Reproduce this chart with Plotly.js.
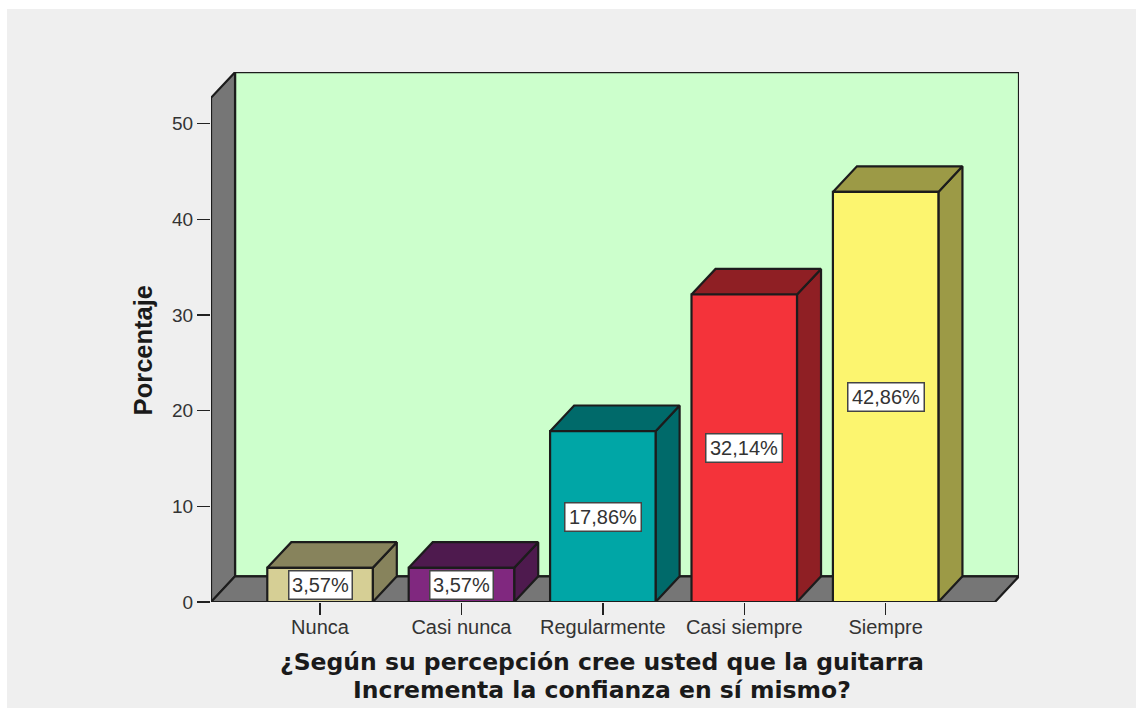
<!DOCTYPE html>
<html><head><meta charset="utf-8">
<script src="https://cdn.plot.ly/plotly-3.0.1.min.js"></script>
<style>
html,body{margin:0;padding:0;background:#fff;overflow:hidden}
#chart{position:absolute;left:7px;top:9px;width:1129px;height:699px}
</style></head><body>
<div id="chart"></div>
<script>
const categories = ['Nunca','Casi nunca','Regularmente','Casi siempre','Siempre'];
const percentages = [3.57,3.57,17.86,32.14,42.86];
const frontColors = ['#D6CF95','#80287F','#00A6A6','#F4333A','#FCF56F'];
const darkColors  = ['#87835C','#4E1A4E','#006A6A','#8F1F24','#9C9A46'];
const yTicks = [0,10,20,30,40,50];
const xTitleLines = ['¿Según su percepción cree usted que la guitarra','Incrementa la confianza en sí mismo?'];
const yTitleText = 'Porcentaje';

const barWidth = 0.746, depthX = 0.17, depthY = 2.68;
const xMin = -0.771, xMax = 4.943, yFront = 52.7;
const edge = '#1c1c1c';
const sans = '"Liberation Sans",Arial,sans-serif';

function poly(xs, ys, fill){
  return {type:'scatter',mode:'lines',x:[...xs,xs[0]],y:[...ys,ys[0]],fill:'toself',fillcolor:fill,
    line:{color:edge,width:2.2,shape:'linear'},cliponaxis:false,hoverinfo:'skip',showlegend:false};
}
const xFrontR = xMax - depthX;
const traces = [
  poly([xMin+depthX,xMax,xMax,xMin+depthX],[depthY,depthY,yFront+depthY,yFront+depthY],'#CCFFCC'),
  poly([xMin,xMin+depthX,xMin+depthX,xMin],[0,depthY,yFront+depthY,yFront],'#767676'),
  poly([xMin,xFrontR,xMax,xMin+depthX],[0,0,depthY,depthY],'#767676')
];
categories.forEach((c,i)=>{
  const v = percentages[i], l = i-barWidth/2, r = i+barWidth/2;
  traces.push(poly([r,r+depthX,r+depthX,r],[0,depthY,v+depthY,v],darkColors[i]));
  traces.push(poly([l,r,r+depthX,l+depthX],[v,v,v+depthY,v+depthY],darkColors[i]));
  traces.push(poly([l,r,r,l],[0,0,v,v],frontColors[i]));
});
const annotations = categories.map((c,i)=>{
  const label = percentages[i].toFixed(2).replace('.',',')+'%';
  return {
    x:i,y:percentages[i]/2,xref:'x',yref:'y',showarrow:false,text:label,
    font:{family:sans,size:20,color:'#333'},
    bgcolor:'#ffffff',bordercolor:'#444',borderwidth:1.5,borderpad:0,
    width:label.length*13-3,height:27,align:'center',valign:'middle'
  };
});
const titleFont = {family:'"DejaVu Sans",sans-serif',size:23.5,color:'#1a1a1a',weight:'bold'};
xTitleLines.forEach((t,k)=>annotations.push({
  text:t,xref:'paper',yref:'paper',x:0.484,y:-0.114-0.0528*k,xanchor:'center',yanchor:'middle',
  showarrow:false,font:titleFont
}));
annotations.push({
  text:yTitleText,xref:'paper',yref:'paper',x:-0.084,y:0.475,xanchor:'center',yanchor:'middle',
  textangle:-90,showarrow:false,font:{family:sans,size:25.5,color:'#1a1a1a',weight:'bold'}
});
const layout = {
  width:1129,height:699,
  margin:{l:204,r:117,t:63,b:106,pad:0},
  paper_bgcolor:'#EFEFEF',plot_bgcolor:'rgba(0,0,0,0)',
  showlegend:false,hovermode:false,
  xaxis:{range:[xMin,xMax],tickmode:'array',tickvals:categories.map((c,i)=>i),ticktext:categories,
    ticks:'outside',ticklen:12,tickwidth:1.5,tickcolor:'#222',tickfont:{family:sans,size:20,color:'#333'},ticklabelstandoff:-5,
    showgrid:false,zeroline:false,showline:false},
  yaxis:{range:[0,55.4],tickmode:'array',tickvals:yTicks,ticktext:yTicks.map(String),
    ticks:'outside',ticklen:13,tickwidth:1.5,tickcolor:'#222',tickfont:{family:sans,size:19,color:'#333'},
    showgrid:false,zeroline:false,showline:false},
  annotations
};
Plotly.newPlot('chart',traces,layout,{displayModeBar:false,staticPlot:true});
</script></body></html>
